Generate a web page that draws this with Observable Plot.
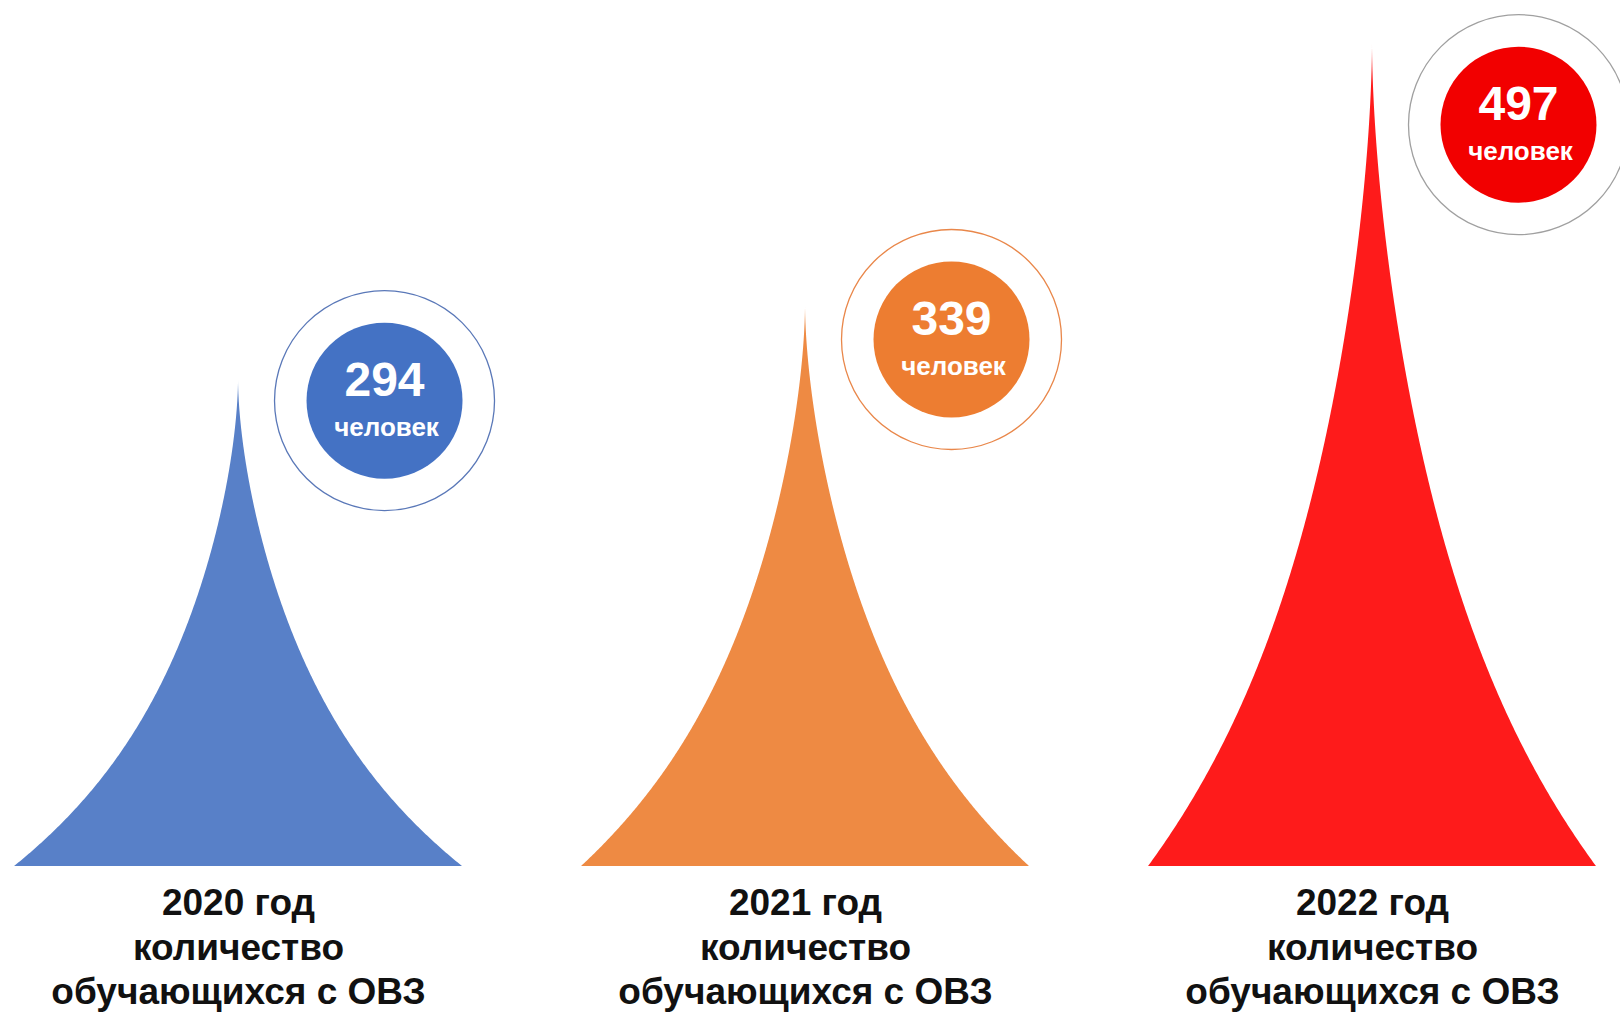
<!DOCTYPE html>
<html>
<head>
<meta charset="utf-8">
<script src="https://cdn.jsdelivr.net/npm/d3@7"></script>
<script src="https://cdn.jsdelivr.net/npm/@observablehq/plot@0.6"></script>
<style>
  html, body { margin: 0; padding: 0; background: #ffffff; overflow: hidden; }
  #chart { width: 1620px; height: 1012px; }
</style>
</head>
<body>
<div id="chart"></div>
<script>
// ---- data ----
const years = [2020, 2021, 2022];
const values = [294, 339, 497];
const yearLabels = ["2020 год", "2021 год", "2022 год"];
const captionLines = ["количество", "обучающихся с ОВЗ"];
const unitLabel = "человек";
const spikeColors = ["#5880C8", "#EE8A43", "#FE1B1B"];
const badgeColors = ["#4472C4", "#ED7D31", "#F20000"];
const ringColors = ["#5A78B8", "#E9874A", "#A0A0A0"];

// ---- derived tables ----
const rows = years.map((year, i) => ({
  year, value: values[i], label: yearLabels[i],
  spike: spikeColors[i], badge: badgeColors[i], ring: ringColors[i]
}));

// spike outline (horn shape): relative half-width as a function of relative height t
const halfWidth = 0.395;   // in years
const profile = t => 0.7 * Math.pow(1 - t, 1.7) + 0.3 * Math.pow(1 - t, 5);
const N = 400;
const spikePts = rows.flatMap(r => {
  const pts = [];
  for (let k = 0; k <= N; k++) {           // left side, base -> tip
    const t = k / N;
    pts.push({ year: r.year, fill: r.spike, x: r.year - halfWidth * profile(t), y: r.value * t });
  }
  for (let k = N - 1; k >= 0; k--) {       // right side, tip -> base
    const t = k / N;
    pts.push({ year: r.year, fill: r.spike, x: r.year + halfWidth * profile(t), y: r.value * t });
  }
  return pts;
});

const badgeY = d => d.value * 0.822 + 40;
const font = "Liberation Sans, Arial, Helvetica, sans-serif";

const chart = Plot.plot({
  width: 1620,
  height: 1012,
  marginLeft: 0,
  marginRight: 0,
  marginTop: 6,
  marginBottom: 146,
  style: { fontFamily: font, background: "#ffffff", overflow: "hidden" },
  x: { domain: [2019.5802, 2022.4374], axis: null },
  y: { domain: [0, 520], axis: null },
  color: { type: "identity" },
  marks: [
    Plot.areaY(spikePts, { x: "x", y: "y", z: "year", fill: "fill", curve: "linear" }),
    // outer ring
    Plot.dot(rows, { x: "year", y: badgeY, dx: 146, r: 110, fill: "none", stroke: "ring", strokeWidth: 1.3 }),
    // inner badge
    Plot.dot(rows, { x: "year", y: badgeY, dx: 146, r: 78, fill: "badge", stroke: "none" }),
    Plot.text(rows, { x: "year", y: badgeY, dx: 146, dy: -20, text: d => String(d.value),
      fill: "white", fontSize: 48, fontWeight: "bold", fontFamily: font }),
    Plot.text(rows, { x: "year", y: badgeY, dx: 148, dy: 27, text: () => unitLabel,
      fill: "white", fontSize: 26, fontWeight: "bold", fontFamily: font }),
    // labels below spikes
    Plot.text(rows, { x: "year", y: 0, dy: 79, text: d => [d.label, ...captionLines].join("\n"),
      lineAnchor: "middle", lineHeight: 1.2, textAnchor: "middle",
      fill: "#111111", fontSize: 37, fontWeight: "bold", fontFamily: font })
  ]
});

document.getElementById("chart").appendChild(chart);
</script>
</body>
</html>
